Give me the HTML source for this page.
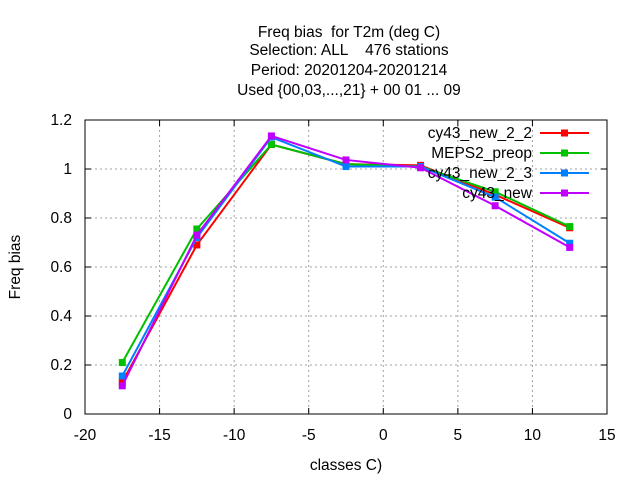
<!DOCTYPE html>
<html><head><meta charset="utf-8"><style>
body{margin:0;background:#fff;}
svg text{font-family:"Liberation Sans",sans-serif;font-size:15.5px;fill:#000;white-space:pre;}
</style></head><body>
<svg id="chart" width="640" height="480">
<g>
<text x="349" y="37" text-anchor="middle">Freq bias  for T2m (deg C)</text>
<text x="349" y="55" text-anchor="middle">Selection: ALL    476 stations</text>
<text x="349" y="75" text-anchor="middle">Period: 20201204-20201214</text>
<text x="349" y="95" text-anchor="middle">Used {00,03,...,21} + 00 01 ... 09</text>
</g>
<g id="grid"></g><g id="axes"></g><g id="series"></g><g id="legend"></g>
<text x="346" y="470" text-anchor="middle">classes C)</text>
<text transform="translate(20,267) rotate(-90)" text-anchor="middle">Freq bias</text>
</svg>
<script>
const categories=[-17.5,-12.5,-7.5,-2.5,2.5,7.5,12.5];
const names=["cy43_new_2_2","MEPS2_preop","cy43_new_2_3","cy43_new"];
const colors=["#ff0000","#00c000","#0080ff","#c000ff"];
const s1=[0.13,0.69,1.10,1.02,1.015,0.895,0.76];
const s2=[0.21,0.755,1.10,1.02,1.01,0.907,0.765];
const s3=[0.155,0.72,1.13,1.01,1.01,0.885,0.697];
const s4=[0.115,0.73,1.135,1.037,1.005,0.85,0.68];
const xTicks=[-20,-15,-10,-5,0,5,10,15];
const yTicks=[0,0.2,0.4,0.6,0.8,1,1.2];
const yLabels=["0","0.2","0.4","0.6","0.8","1","1.2"];
const NS="http://www.w3.org/2000/svg";
const L=85,R=607,T=120,B=414;
const X=v=>L+(v+20)/35*(R-L), Y=v=>B-v/1.2*(B-T);
function mk(tag,a,p){const e=document.createElementNS(NS,tag);for(const k in a)e.setAttribute(k,a[k]);p.appendChild(e);return e;}
const grid=document.getElementById('grid'),axes=document.getElementById('axes'),ser=document.getElementById('series'),leg=document.getElementById('legend');
xTicks.forEach((t,i)=>{const x=X(t);
 if(i>0&&i<xTicks.length-1){const g=mk('line',{x1:x,x2:x,y1:T,y2:B,stroke:'#a0a0a0','stroke-dasharray':'2,3'},grid);
 
 }
 mk('line',{x1:x,x2:x,y1:B,y2:B-6,stroke:'#000'},axes);mk('line',{x1:x,x2:x,y1:T,y2:T+6,stroke:'#000'},axes);
 const tx=mk('text',{x:x,y:B+26,'text-anchor':'middle'},axes);tx.textContent=t;
 
 });
yTicks.forEach((t,i)=>{const y=Y(t);
 if(i>0&&i<yTicks.length-1){const g=mk('line',{x1:L,x2:R,y1:y,y2:y,stroke:'#a0a0a0','stroke-dasharray':'2,3'},grid);
 
 }
 mk('line',{x1:L,x2:L+6,y1:y,y2:y,stroke:'#000'},axes);mk('line',{x1:R,x2:R-6,y1:y,y2:y,stroke:'#000'},axes);
 const tx=mk('text',{x:L-13,y:y+5,'text-anchor':'end'},axes);tx.textContent=yLabels[i];
 
 });
const frame=mk('rect',{x:L,y:T,width:R-L,height:B-T,fill:'none',stroke:'#000'},axes);


[s1,s2,s3,s4].forEach((s,k)=>{const g=mk('g',{},ser);
 
 
 mk('polyline',{points:s.map((v,i)=>X(categories[i])+','+Y(v)).join(' '),fill:'none',stroke:colors[k],'stroke-width':2},g);
 s.forEach((v,i)=>{const p=mk('rect',{x:X(categories[i])-3.5,y:Y(v)-3.5,width:7,height:7,fill:colors[k]},g);
 
 });
 const ly=133+k*20;
 const le=mk('g',{},leg);
 
 
 const t=mk('text',{x:532,y:ly+5,'text-anchor':'end'},le);t.textContent=names[k];
 mk('line',{x1:540,x2:589,y1:ly,y2:ly,stroke:colors[k],'stroke-width':2},le);
 mk('rect',{x:561,y:ly-3.5,width:7,height:7,fill:colors[k]},le);});
</script>
</body></html>
